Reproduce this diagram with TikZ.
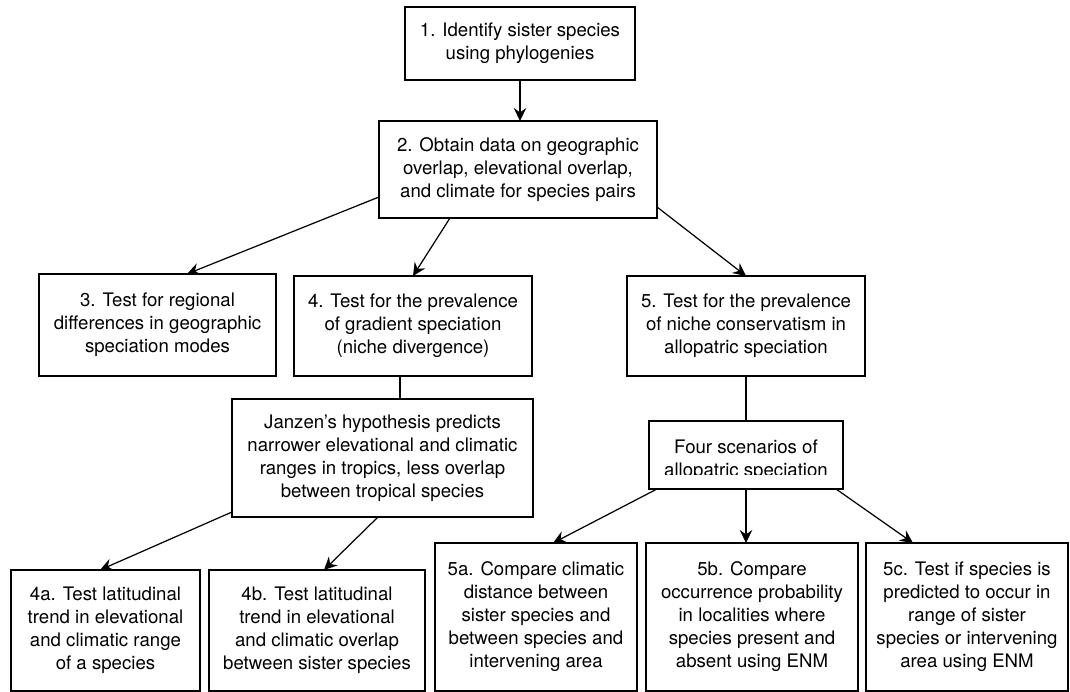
\documentclass[tikz,border=0pt]{standalone}
\usepackage{fontspec}
\setmainfont{TeX Gyre Heros}
\usepackage{tikz}
\usetikzlibrary{arrows.meta,calc}
\tikzset{
  chartA/.style={
    font=\fontsize{10.6}{13.1}\selectfont,
    every node/.style={inner sep=0pt, outer sep=0pt},
    line width=0.7pt,
  },
  block/.style={
    draw=black, line width=0.75pt, fill=white, align=center,
  },
  flow/.style={-{Stealth[length=2.6mm, width=2.5mm, inset=0.9mm]}, black, line width=0.7pt},
  link/.style={black, line width=0.7pt},
}

\begin{document}
\begin{tikzpicture}[chartA, x=1cm, y=1cm]

\useasboundingbox (0,0) rectangle (21.4,13.84);

% ============================================================
% TOP: steps 1 and 2
% ============================================================
\node[block, minimum width=4.60cm, minimum height=1.46cm]
  (b1) at (10.40, 12.97) {1. Identify sister species\\using phylogenies};
\node[block, minimum width=5.56cm, minimum height=1.94cm]
  (b2) at (10.36, 10.45)
  {2. Obtain data on geographic\\overlap, elevational overlap,\\and climate for species pairs};

% ============================================================
% MIDDLE ROW: tests 3, 4, 5
% ============================================================
\node[block, minimum width=4.74cm, minimum height=2.04cm]
  (b3) at (3.15, 7.34)
  {3. Test for regional\\differences in geographic\\speciation modes};
\node[block, minimum width=4.76cm, minimum height=2.00cm]
  (b4) at (8.26, 7.32)
  {4. Test for the prevalence\\of gradient speciation\\(niche divergence)};
\node[block, minimum width=4.76cm, minimum height=2.00cm]
  (b5) at (14.92, 7.32)
  {5. Test for the prevalence\\of niche conservatism in\\allopatric speciation};

% Janzen box under test 4
\node[block, minimum width=6.02cm, minimum height=2.36cm]
  (janzen) at (7.65, 4.68)
  {Janzen’s hypothesis predicts\\narrower elevational and climatic\\ranges in tropics, less overlap\\between tropical species};

% Scenarios box under test 5 -- its second line is cut off inside the box
\node[block, minimum width=3.88cm, minimum height=1.36cm]
  (four) at (14.92, 4.74) {};
\begin{scope}
  \clip (four.north west) rectangle ($(four.south east)+(0,0.28)$);
  \node[align=center] (fourtxt) at (14.92, 4.64)
    {Four scenarios of\\allopatric speciation};
\end{scope}

% ============================================================
% BOTTOM ROW: 4a, 4b and 5a--5c
% ============================================================
\node[block, minimum width=3.78cm, minimum height=2.42cm]
  (b4a) at (2.11, 1.23)
  {4a. Test latitudinal\\trend in elevational\\and climatic range\\of a species};
\node[block, minimum width=4.32cm, minimum height=2.42cm]
  (b4b) at (6.34, 1.23)
  {4b. Test latitudinal\\trend in elevational\\and climatic overlap\\between sister species};
\node[block, minimum width=4.04cm, minimum height=2.96cm]
  (b5a) at (10.72, 1.50)
  {5a. Compare climatic\\distance between\\sister species and\\between species and\\intervening area};
\node[block, minimum width=4.24cm, minimum height=2.96cm]
  (b5b) at (15.04, 1.50)
  {5b. Compare\\occurrence probability\\in localities where\\species present and\\absent using ENM};
\node[block, minimum width=4.04cm, minimum height=2.96cm]
  (b5c) at (19.34, 1.50)
  {5c. Test if species is\\predicted to occur in\\range of sister\\species or intervening\\area using ENM};

% ============================================================
% CONNECTORS
% ============================================================
\draw[flow] (b1.south) -- (b1.south |- b2.north);
\draw[flow] ($(b2.south west)+(0,0.42)$) -- ($(b3.north)+(0.59,0)$);
\draw[flow] ($(b2.south)+(-1.36,0)$) -- (b4.north);
\draw[flow] ($(b2.south east)+(0,0.22)$) -- (b5.north);

\coordinate (b4out) at ($(b4.south)+(-0.26,0)$);
\draw[link] (b4out) -- (b4out |- janzen.north);
\draw[link] (b5.south) -- (four.north);

\draw[flow] ($(janzen.south west)+(0,0.10)$) -- ($(b4a.north)+(-0.11,0)$);
\draw[flow] ($(janzen.south)+(-0.09,0)$) -- ($(b4b.north)+(0.14,0)$);

\draw[flow] ($(four.south west)+(0.16,0)$) -- ($(b5a.north)+(0.34,0)$);
\draw[flow] (four.south) -- (four.south |- b5b.north);
\draw[flow] ($(four.south east)+(-0.14,0)$) -- ($(b5c.north)+(-1.08,0)$);

\end{tikzpicture}
\end{document}
